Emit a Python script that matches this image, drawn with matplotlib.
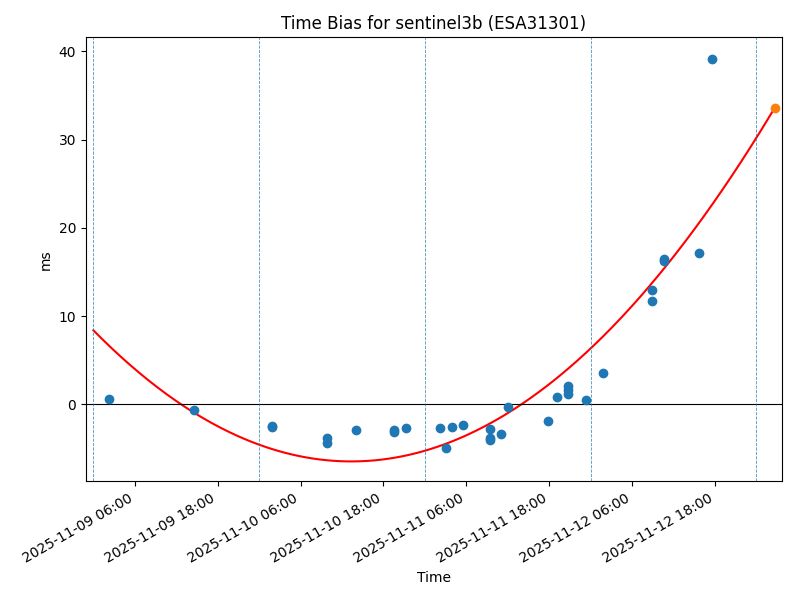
import numpy as np
import pandas as pd
import matplotlib
matplotlib.use("Agg")
import matplotlib.pyplot as plt
import matplotlib.dates as mdates

obs_times = [
    "2025-11-09 02:19", "2025-11-09 14:37",
    "2025-11-10 01:50", "2025-11-10 01:55",
    "2025-11-10 09:50", "2025-11-10 09:50", "2025-11-10 14:04",
    "2025-11-10 19:34", "2025-11-10 19:34", "2025-11-10 21:13",
    "2025-11-11 02:14", "2025-11-11 03:06", "2025-11-11 03:58", "2025-11-11 05:34",
    "2025-11-11 09:28", "2025-11-11 09:28", "2025-11-11 09:28",
    "2025-11-11 11:04", "2025-11-11 12:05", "2025-11-11 17:52", "2025-11-11 19:10",
    "2025-11-11 20:46", "2025-11-11 20:46", "2025-11-11 20:46", "2025-11-11 23:22",
    "2025-11-12 01:50", "2025-11-12 08:55", "2025-11-12 08:55",
    "2025-11-12 10:40", "2025-11-12 10:40", "2025-11-12 15:43", "2025-11-12 17:31",
]
obs_ms = [
    0.65, -0.68,
    -2.53, -2.45,
    -3.78, -4.34, -2.95,
    -2.87, -3.14, -2.72,
    -2.72, -4.99, -2.53, -2.30,
    -2.83, -3.78, -4.00,
    -3.32, -0.26, -1.85, 0.79,
    2.04, 1.59, 1.13, 0.53,
    3.59, 12.92, 11.67,
    16.46, 16.24, 17.19, 39.17,
]

# predicted point at the end of the fit
pred_time = "2025-11-13 02:41"
pred_ms = 33.62

# quadratic fit: a*(h - h_min)**2 + y_min, h = hours since fit start
fit_start = "2025-11-09 00:00"
fit_a = 0.010656
fit_hmin = 37.34
fit_ymin = -6.46

day_lines = ["2025-11-09", "2025-11-10", "2025-11-11", "2025-11-12", "2025-11-13"]

t_obs = pd.to_datetime(obs_times)
t0 = pd.Timestamp(fit_start)
t1 = pd.Timestamp(pred_time)
hours = np.linspace(0, (t1 - t0).total_seconds() / 3600, 300)
fit_t = t0 + pd.to_timedelta(hours, unit="h")
fit_y = fit_a * (hours - fit_hmin) ** 2 + fit_ymin

fig, ax = plt.subplots(figsize=(8, 6), dpi=100)
fig.subplots_adjust(left=0.1075, right=0.977, top=0.938, bottom=0.198)

ax.scatter(t_obs, obs_ms, color="C0", zorder=3)
ax.plot(fit_t, fit_y, color="red")
ax.scatter([pd.Timestamp(pred_time)], [pred_ms], color="C1", zorder=3)
ax.axhline(0, color="black", lw=0.8)
for d in day_lines:
    ax.axvline(pd.Timestamp(d), color="C0", ls="--", lw=0.6, alpha=0.8)

ax.set_xlim(pd.Timestamp("2025-11-08 22:56"), pd.Timestamp("2025-11-13 03:39"))
ax.set_ylim(-8.7, 41.6)
ax.xaxis.set_major_locator(mdates.HourLocator(byhour=[6, 18]))
ax.xaxis.set_major_formatter(mdates.DateFormatter("%Y-%m-%d %H:%M"))
for lbl in ax.get_xticklabels():
    lbl.set_rotation(30)
    lbl.set_ha("right")

ax.set_title("Time Bias for sentinel3b (ESA31301)")
ax.set_xlabel("Time")
ax.set_ylabel("ms")

fig.savefig("out.png")
